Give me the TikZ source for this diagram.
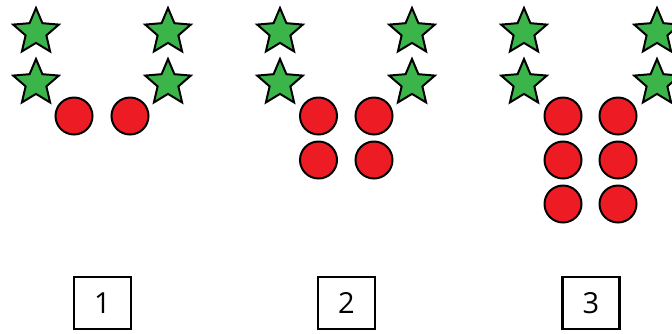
\documentclass[tikz,border=0pt]{standalone}
\usepackage{fontspec}
\setmainfont{Open Sans}
\usetikzlibrary{shapes.geometric}
\definecolor{stargreen}{HTML}{3BB54A}
\definecolor{dotred}{HTML}{ED1C24}
\tikzset{
  greenstar/.style={star, star points=5, star point ratio=2.2, minimum size=48pt, inner sep=0pt, draw=black, fill=stargreen, line width=2pt},
  reddot/.style={circle, minimum size=37pt, inner sep=0pt, draw=black, fill=dotred, line width=2pt},
  numbox/.style={rectangle, minimum width=57pt, minimum height=52pt, inner sep=0pt, draw=black, line width=2.2pt, font=\fontsize{29}{29}\selectfont}
}
\begin{document}
\begin{tikzpicture}[x=1pt,y=-1pt]
\useasboundingbox (0,0) rectangle (672,333);
% figure 1
\node[greenstar] (s1a) at (36,32) {};
\node[greenstar] (s1b) at (36,83) {};
\node[greenstar] (s1c) at (168,32) {};
\node[greenstar] (s1d) at (168,83) {};
\node[reddot] (c1a) at (74,116) {};
\node[reddot] (c1b) at (130,116) {};
\node[numbox] (b1) at (102.5,303) {1};
% figure 2
\node[greenstar] (s2a) at (280,32) {};
\node[greenstar] (s2b) at (280,83) {};
\node[greenstar] (s2c) at (412,32) {};
\node[greenstar] (s2d) at (412,83) {};
\node[reddot] (c2a) at (318.5,116) {};
\node[reddot] (c2b) at (374,116) {};
\node[reddot] (c2c) at (318.5,160) {};
\node[reddot] (c2d) at (374,160) {};
\node[numbox] (b2) at (346.5,303) {2};
% figure 3
\node[greenstar] (s3a) at (524,32) {};
\node[greenstar] (s3b) at (524,83) {};
\node[greenstar] (s3c) at (657,32) {};
\node[greenstar] (s3d) at (657,83) {};
\node[reddot] (c3a) at (563,116) {};
\node[reddot] (c3b) at (618,116) {};
\node[reddot] (c3c) at (563,160) {};
\node[reddot] (c3d) at (618,160) {};
\node[reddot] (c3e) at (563,204) {};
\node[reddot] (c3f) at (618,204) {};
\node[numbox] (b3) at (591,303) {3};
\end{tikzpicture}
\end{document}
